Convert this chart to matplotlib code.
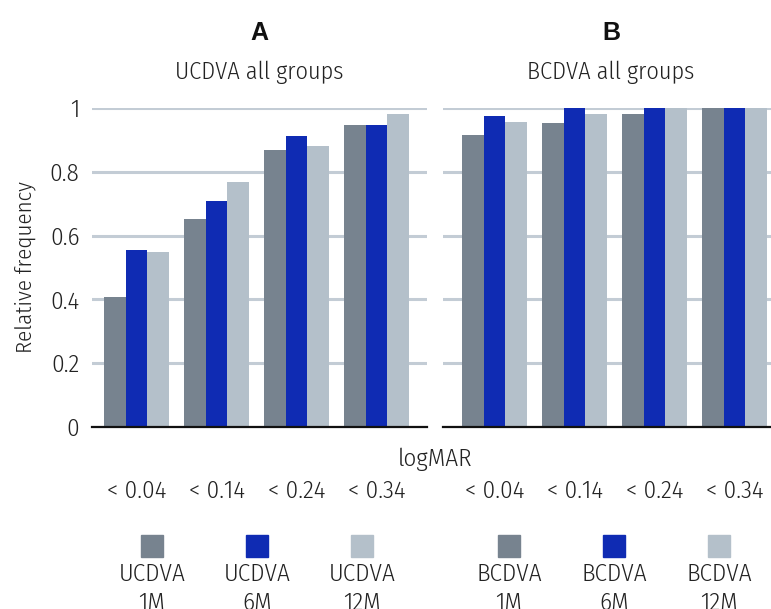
import numpy as np
import matplotlib
matplotlib.use("Agg")
import matplotlib.pyplot as plt
from matplotlib.patches import Rectangle

plt.rcParams['font.family'] = ['Fira Sans Condensed', 'DejaVu Sans']
plt.rcParams['font.weight'] = 300

# logMAR thresholds
categories = ["< 0.04", "< 0.14", "< 0.24", "< 0.34"]

# relative frequency, panel A (uncorrected) and panel B (best corrected)
ucdva_1m = [0.406, 0.651, 0.867, 0.946]
ucdva_6m = [0.554, 0.707, 0.911, 0.946]
ucdva_12m = [0.548, 0.767, 0.880, 0.980]

bcdva_1m = [0.914, 0.952, 0.980, 1.0]
bcdva_6m = [0.974, 1.0, 1.0, 1.0]
bcdva_12m = [0.955, 0.980, 1.0, 1.0]

series_labels = ["1M", "6M", "12M"]
colors = ["#77838f", "#0f2bb3", "#b4c0ca"]
grid_color = "#c3ccd5"
text_color = "#222222"
fs = 18
LIGHT = 300

W, H = 771, 609
fig = plt.figure(figsize=(W / 100, H / 100), dpi=100)

def px_box(left, right, top, bottom):
    return [left / W, 1 - bottom / H, (right - left) / W, (bottom - top) / H]

axA = fig.add_axes(px_box(92, 427, 108, 427))
axB = fig.add_axes(px_box(443, 771, 108, 427))

x = np.arange(len(categories))
bw = 0.27

def draw_panel(ax, data, xlim, show_y):
    for i, vals in enumerate(data):
        ax.bar(x + (i - 1) * bw, vals, width=bw, color=colors[i], zorder=2)
    ax.set_xlim(*xlim)
    ax.set_ylim(0, 1.0)
    ax.set_yticks([0, 0.2, 0.4, 0.6, 0.8, 1.0])
    ax.set_yticklabels(["0", "0.2", "0.4", "0.6", "0.8", "1"], fontweight=LIGHT)
    ax.yaxis.grid(True, color=grid_color, linewidth=2.2)
    ax.set_axisbelow(True)
    for s in ["top", "right", "left"]:
        ax.spines[s].set_visible(False)
    ax.spines["bottom"].set_linewidth(1.6)
    ax.spines["bottom"].set_color("#111111")
    ax.spines["bottom"].set_zorder(3)
    ax.set_xticks(x)
    ax.set_xticklabels(categories, fontsize=fs, color=text_color, fontweight=LIGHT)
    ax.tick_params(axis="x", length=0, pad=38)
    ax.tick_params(axis="y", length=0, pad=9, labelsize=fs, labelcolor=text_color)
    if not show_y:
        ax.tick_params(axis="y", labelleft=False)

draw_panel(axA, [ucdva_1m, ucdva_6m, ucdva_12m], (-0.556, 3.63), True)
draw_panel(axB, [bcdva_1m, bcdva_6m, bcdva_12m], (-0.644, 3.456), False)

axA.set_ylabel("Relative frequency", fontsize=16.5, color=text_color,
               fontweight=LIGHT, va="center")
axA.yaxis.set_label_coords(-0.2, 0.5)

# panel titles
for cx, letter, title in [(259, "A", "UCDVA all groups"), (611, "B", "BCDVA all groups")]:
    fig.text(cx / W, 1 - 33 / H, letter, ha="center", va="center", fontsize=18,
             fontweight="bold", family="Liberation Sans", color="#111111")
    fig.text(cx / W, 1 - 72 / H, title, ha="center", va="center",
             fontsize=17.5, color=text_color, fontweight=LIGHT)

fig.text(435 / W, 1 - 459 / H, "logMAR", ha="center", va="center",
         fontsize=fs, color=text_color, fontweight=LIGHT)

# legend: square above two-line label
legend_x = {"UCDVA": [152, 257, 362], "BCDVA": [509, 614, 719]}
for name, xs in legend_x.items():
    for cx, lab, col in zip(xs, series_labels, colors):
        fig.add_artist(Rectangle(((cx - 11) / W, 1 - 557 / H), 22 / W, 22 / H,
                                 transform=fig.transFigure, color=col))
        fig.text(cx / W, 1 - 563 / H, name + "\n" + lab, ha="center", va="top",
                 fontsize=fs, color=text_color, linespacing=1.3, fontweight=LIGHT)

fig.savefig("out.png", dpi=100)
